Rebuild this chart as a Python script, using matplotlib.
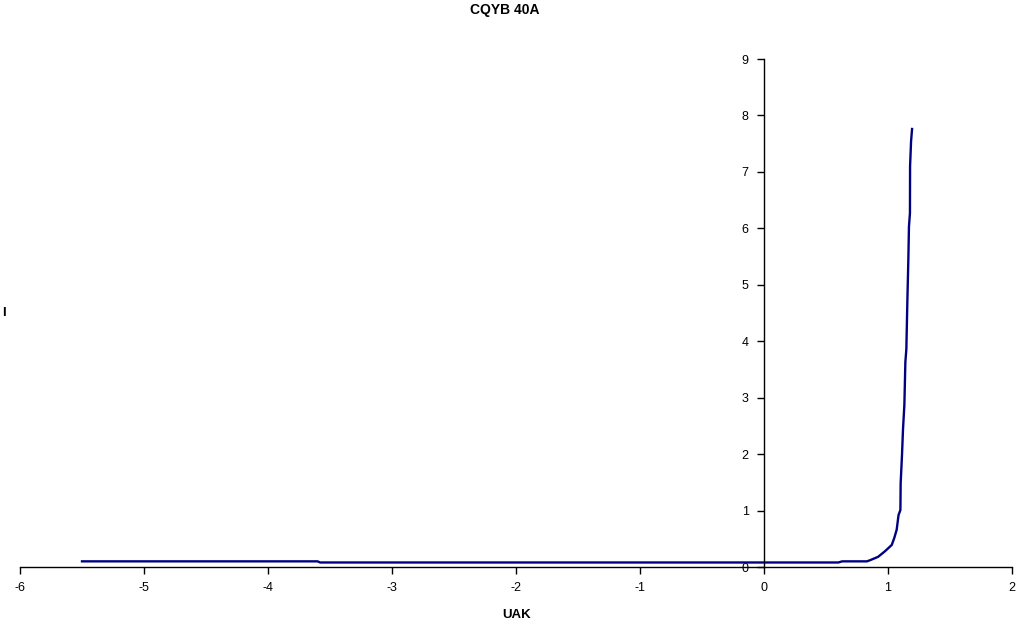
import matplotlib as mpl
mpl.use('Agg')
import matplotlib.pyplot as plt

# measured points (UAK in V, I in A)
uak = [-5.5, -3.6, -3.58, 0.6, 0.63, 0.83, 0.855, 0.92, 0.976, 1.03, 1.05, 1.07,
       1.085, 1.10, 1.102, 1.113, 1.121, 1.132, 1.140, 1.148, 1.156,
       1.164, 1.169, 1.177, 1.178, 1.186, 1.194]
current = [0.1, 0.1, 0.08, 0.08, 0.1, 0.1, 0.12, 0.18, 0.28, 0.39, 0.51, 0.66,
           0.92, 1.01, 1.48, 1.99, 2.44, 2.87, 3.63, 3.86, 4.70,
           5.44, 6.03, 6.27, 7.10, 7.54, 7.76]

xticks = [-6, -5, -4, -3, -2, -1, 0, 1, 2]
yticks = [0, 1, 2, 3, 4, 5, 6, 7, 8, 9]

plt.rcParams['font.family'] = ['Liberation Sans', 'DejaVu Sans']

fig = plt.figure(figsize=(10.17, 6.25), dpi=100)
ax = fig.add_axes([20 / 1017, 58 / 625, 992 / 1017, 508 / 625])

ax.plot(uak, current, color='#000080', linewidth=1.7)

ax.set_xlim(-6, 2)
ax.set_ylim(0, 9)
ax.set_xticks(xticks)
ax.set_yticks(yticks)
ax.set_xticklabels([str(t) for t in xticks])
ax.set_yticklabels([str(t) for t in yticks])

ax.spines['left'].set_position(('data', 0))
ax.spines['bottom'].set_position(('data', 0))
ax.spines['right'].set_visible(False)
ax.spines['top'].set_visible(False)
for s in ('left', 'bottom'):
    ax.spines[s].set_linewidth(1.0)
ax.tick_params(axis='both', direction='out', length=5, width=1.0,
               labelsize=9, pad=6)

fig.text(505 / 1017, 1 - 10 / 625, 'CQYB 40A', ha='center', va='center',
         fontsize=10, fontweight='bold')
fig.text(517 / 1017, 1 - 615 / 625, 'UAK', ha='center', va='center',
         fontsize=9.5, fontweight='bold')
fig.text(2 / 1017, 1 - 313 / 625, 'I', ha='left', va='center',
         fontsize=9.5, fontweight='bold')

plt.savefig('out.png', dpi=100)
